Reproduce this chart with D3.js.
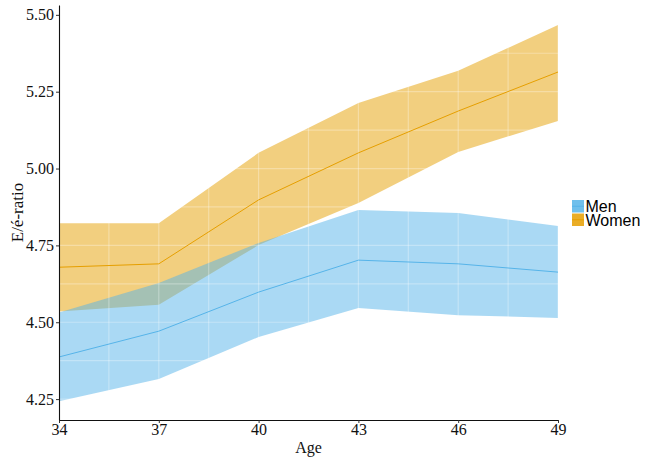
<!DOCTYPE html>
<html>
<head>
<meta charset="utf-8">
<script src="https://cdn.jsdelivr.net/npm/d3@7"></script>
<style>
  body { margin: 0; background: #fff; }
  .tick text { font-family: "Liberation Serif", serif; font-size: 16px; fill: #111; }
  .axis-title { font-family: "Liberation Serif", serif; font-size: 16px; fill: #111; }
  .legend-text { font-family: "Liberation Sans", Arial, sans-serif; font-size: 16px; fill: #000; }
</style>
</head>
<body>
<svg width="645" height="457"></svg>
<script>
var ages = [34, 37, 40, 43, 46, 49];
var menMean = [4.387, 4.471, 4.598, 4.702, 4.690, 4.663];
var menLow = [4.243, 4.315, 4.452, 4.546, 4.523, 4.514];
var menHigh = [4.532, 4.628, 4.758, 4.865, 4.855, 4.813];
var womenMean = [4.679, 4.690, 4.898, 5.051, 5.187, 5.314];
var womenLow = [4.535, 4.557, 4.751, 4.888, 5.054, 5.155];
var womenHigh = [4.822, 4.822, 5.051, 5.213, 5.318, 5.467];
var yTicks = [4.25, 4.50, 4.75, 5.00, 5.25, 5.50];

var svg = d3.select('svg');
var margin = {t: 5, r: 87, b: 37, l: 59};
var width = 645 - margin.l - margin.r;
var height = 457 - margin.t - margin.b;

var g = svg.append('g')
    .attr('transform', 'translate(' + margin.l + ',' + margin.t + ')');

var x = d3.scaleLinear().domain([34, 49]).range([0, width]);
var y = d3.scaleLinear().domain([4.182, 5.532]).range([height, 0]);

function series(mean, low, high) {
    return ages.map(function(a, i) {
        return {age: a, mean: mean[i], low: low[i], high: high[i]};
    });
}

var groups = [
    {name: 'Women', color: '#E69F00', data: series(womenMean, womenLow, womenHigh)},
    {name: 'Men', color: '#56B4E9', data: series(menMean, menLow, menHigh)}
];

var area = d3.area()
    .x(function(d) { return x(d.age); })
    .y0(function(d) { return y(d.low); })
    .y1(function(d) { return y(d.high); });

var line = d3.line()
    .x(function(d) { return x(d.age); })
    .y(function(d) { return y(d.mean); });

groups.forEach(function(s) {
    g.append('path')
        .attr('d', area(s.data))
        .attr('fill', s.color)
        .attr('fill-opacity', 0.5);
});

// faint white grid showing through the ribbons
var xGrid = d3.range(34, 49.01, 1.5);
var yGrid = d3.range(4.25, 5.51, 0.125);
g.selectAll('.vgrid').data(xGrid).enter().append('line')
    .attr('x1', function(d) { return x(d); })
    .attr('x2', function(d) { return x(d); })
    .attr('y1', 0).attr('y2', height)
    .attr('stroke', '#fff').attr('stroke-opacity', 0.3).attr('stroke-width', 1.2);
g.selectAll('.hgrid').data(yGrid).enter().append('line')
    .attr('x1', 0).attr('x2', width)
    .attr('y1', function(d) { return y(d); })
    .attr('y2', function(d) { return y(d); })
    .attr('stroke', '#fff').attr('stroke-opacity', 0.3).attr('stroke-width', 1.2);

groups.forEach(function(s) {
    g.append('path')
        .attr('d', line(s.data))
        .attr('fill', 'none')
        .attr('stroke', s.color)
        .attr('stroke-width', 1);
});

var xAxis = g.append('g')
    .attr('transform', 'translate(0,' + height + ')')
    .call(d3.axisBottom(x).tickValues(ages).tickSize(3).tickPadding(1).tickSizeOuter(0));
var yAxis = g.append('g')
    .call(d3.axisLeft(y).tickValues(yTicks).tickFormat(d3.format('.2f')).tickSize(3).tickPadding(2).tickSizeOuter(0));
[xAxis, yAxis].forEach(function(a) {
    a.select('.domain').attr('stroke', '#111').attr('stroke-width', 1.1);
    a.selectAll('.tick line').attr('stroke', '#333');
});

g.append('text')
    .attr('class', 'axis-title')
    .attr('x', width / 2)
    .attr('y', height + 33)
    .attr('text-anchor', 'middle')
    .text('Age');

g.append('text')
    .attr('class', 'axis-title')
    .attr('transform', 'translate(' + (-36) + ',' + (height / 2) + ') rotate(-90)')
    .attr('text-anchor', 'middle')
    .style('font-size', '17px')
    .text('E/é-ratio');

var legend = svg.append('g').attr('transform', 'translate(572,200)');
var legendItems = [groups[1], groups[0]];
legendItems.forEach(function(s, i) {
    var row = legend.append('g').attr('transform', 'translate(0,' + (i * 13.5) + ')');
    row.append('rect')
        .attr('width', 12).attr('height', 12.5)
        .attr('fill', s.color).attr('fill-opacity', 0.85);
    row.append('line')
        .attr('x1', 0).attr('x2', 12).attr('y1', 6.25).attr('y2', 6.25)
        .attr('stroke', s.color).attr('stroke-width', 1);
    row.append('text')
        .attr('class', 'legend-text')
        .attr('x', 13.5).attr('y', 12)
        .text(s.name);
});
</script>
</body>
</html>
